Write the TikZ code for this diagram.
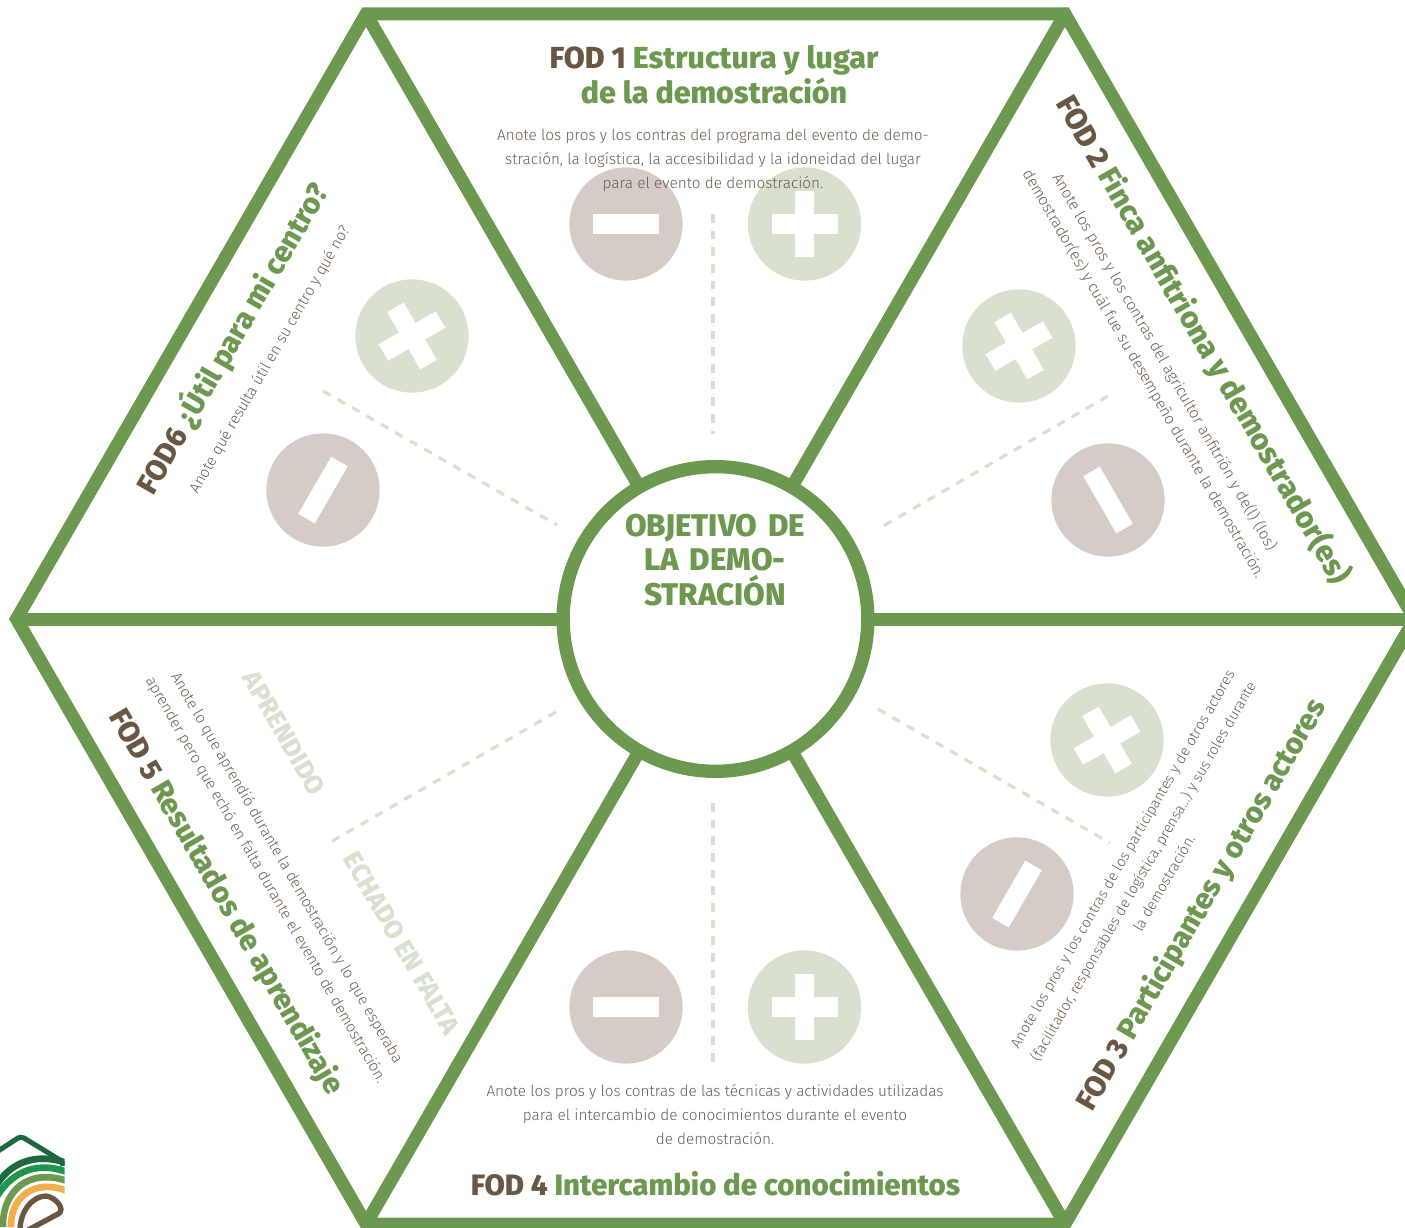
\documentclass[tikz,border=0pt]{standalone}
\usepackage{fontspec}
\setmainfont{Fira Sans Light}[BoldFont=Fira Sans ExtraBold]
\definecolor{hexgreen}{HTML}{6C9850}
\definecolor{fodbrown}{HTML}{6A5743}
\definecolor{bodybrown}{HTML}{6A5C4E}
\definecolor{minusc}{HTML}{D5CCC7}
\definecolor{plusc}{HTML}{D9E0D0}
\definecolor{logodark}{HTML}{1E683E}
\definecolor{logogreen}{HTML}{1E964C}
\definecolor{logoorange}{HTML}{F2AE4A}
\tikzset{
  wall/.style={draw=hexgreen,line width=9.75pt,line join=miter},
  hub/.style={circle,draw=hexgreen,fill=white,line width=10pt,minimum size=228.5pt,inner sep=0pt,outer sep=0pt},
  guide/.style={draw=plusc,line width=2.4pt,dash pattern=on 6.5pt off 6pt},
  disc/.style={circle,minimum size=85pt,inner sep=0pt,outer sep=0pt},
  minusdisc/.style={disc,fill=minusc},
  plusdisc/.style={disc,fill=plusc},
  bar/.style={fill=white,draw=none,minimum width=49.5pt,minimum height=14.3pt,inner sep=0pt,outer sep=0pt},
  titletext/.style={font=\fontsize{#1}{26}\selectfont\bfseries,align=center,text=hexgreen,inner sep=0pt},
  titletext/.default=22.1,
  bodytext/.style={font=\fontsize{#1}{18}\selectfont,align=center,text=bodybrown,inner sep=0pt},
  bodytext/.default=11.4,
  hubtext/.style={font=\fontsize{23.5}{26}\selectfont\bfseries,align=center,text=hexgreen,inner sep=0pt},
  paletext/.style={font=\fontsize{19.6}{22}\selectfont\bfseries,text=plusc,inner sep=0pt},
  logoband/.style={line width=5pt,line cap=butt},
}
\newcommand{\fodmark}[1]{\textcolor{fodbrown}{#1}}
\begin{document}
\begin{tikzpicture}[x=0.75pt,y=-0.75pt]
\useasboundingbox (0,0) rectangle (1405,1227);
\clip (0,0) rectangle (1405,1227);
% dashed guides
\coordinate (g1a) at (713,214); \coordinate (g1b) at (713,434);
\coordinate (g2a) at (1108,396); \coordinate (g2b) at (878,529);
\coordinate (g3a) at (878,709); \coordinate (g3b) at (1110,843);
\coordinate (g4a) at (713,803); \coordinate (g4b) at (713,1065);
\coordinate (g5a) at (556,712); \coordinate (g5b) at (329,843);
\coordinate (g6a) at (323,391); \coordinate (g6b) at (557,525);
\foreach \g in {1,...,6} \draw[guide] (g\g a) -- (g\g b);
% hexagon
\coordinate (v1) at (366,14);
\coordinate (v2) at (1065,14);
\coordinate (v3) at (1414.5,619);
\coordinate (v4) at (1065,1224);
\coordinate (v5) at (366,1224);
\coordinate (v6) at (16.5,619);
\node[hub] (hub) at (715.5,619) {};
\foreach \v in {1,...,6} \draw[wall] (v\v) -- (hub);
\draw[wall] (v1) -- (v2) -- (v3) -- (v4) -- (v5) -- (v6) -- cycle;
% discs
\node[minusdisc] (m1) at (626,224) {};
\node[plusdisc] (p1) at (804.5,224) {};
\node[bar] at (m1) {};
\node[bar] at (p1) {};
\node[bar,rotate=90] at (p1) {};
\node[minusdisc] (m4) at (626,1007) {};
\node[plusdisc] (p4) at (804.5,1007) {};
\node[bar] at (m4) {};
\node[bar] at (p4) {};
\node[bar,rotate=90] at (p4) {};
\node[plusdisc] (p2) at (1019,346) {};
\node[minusdisc] (m2) at (1108,500) {};
\node[bar,rotate=30] at (p2) {};
\node[bar,rotate=-60] at (p2) {};
\node[bar,rotate=-60] at (m2) {};
\node[plusdisc] (p3) at (1107,740) {};
\node[minusdisc] (m3) at (1017,894) {};
\node[bar,rotate=30] at (p3) {};
\node[bar,rotate=-60] at (p3) {};
\node[bar,rotate=60] at (m3) {};
\node[plusdisc] (p6) at (412,336) {};
\node[minusdisc] (m6) at (323,490) {};
\node[bar,rotate=30] at (p6) {};
\node[bar,rotate=-60] at (p6) {};
\node[bar,rotate=60] at (m6) {};
% titles
\node[titletext=22.8] (t1) at (714,75) {\fodmark{FOD 1} Estructura y lugar\\de la demostración};
\node[titletext=22.6,rotate=-60] (t2) at (1203,340) {\fodmark{FOD 2} Finca anfitriona y demostrador(es)};
\node[titletext,rotate=60] (t3) at (1202,905) {\fodmark{FOD 3} Participantes y otros actores};
\node[titletext] (t4) at (715.5,1184) {\fodmark{FOD 4} Intercambio de conocimientos};
\node[titletext,rotate=-60] (t5) at (226,902) {\fodmark{FOD 5} Resultados de aprendizaje};
\node[titletext,rotate=60] (t6) at (232,338) {\fodmark{FOD6} ¿Útil para mi centro?};
% body
\node[bodytext=11.5] (b1) at (713,160) {Anote los pros y los contras del programa del evento de demo-\\stración, la logística, la accesibilidad y la idoneidad del lugar\\para el evento de demostración.};
\node[bodytext=11.6,rotate=-60] (b2) at (1154,368) {Anote los pros y los contras del agricultor anfitrión y de(l) (los)\\demostrador(es) y cuál fue su desempeño durante la demostración.};
\node[bodytext=10.95,rotate=60] (b3) at (1143,871) {Anote los pros y los contras de los participantes y de otros actores\\(facilitador, responsables de logística, prensa…) y sus roles durante\\la demostración.};
\node[bodytext=11.5] (b4) at (715,1115) {Anote los pros y los contras de las técnicas y actividades utilizadas\\para el intercambio de conocimientos durante el evento\\de demostración.};
\node[bodytext,rotate=-60] (b5) at (276,874) {Anote lo que aprendió durante la demostración y lo que esperaba\\aprender pero que echó en falta durante el evento de demostración.};
\node[bodytext,rotate=60] (b6) at (270,360) {Anote qué resulta útil en su centro y qué no?};
% pale labels
\node[paletext,rotate=-60] (l1) at (284,733) {APRENDIDO};
\node[paletext,rotate=-60] (l2) at (402,943) {ECHADO EN FALTA};
% hub text
\node[hubtext,text width=220pt] (ht) at (715,560) {OBJETIVO DE\\LA DEMO-\\STRACIÓN};
% logo
\begin{scope}
\clip (-5,1130) rectangle (64.5,1230);
\draw[color=logodark,line width=3.8pt,line join=round] (-5,1153) -- (18,1138) .. controls (20,1137) and (22,1137) .. (24,1138) -- (60,1160) .. controls (62,1162) and (63,1164) .. (63,1166);
\draw[logoband,color=logodark] (-4,1186) .. controls (8,1166) and (32,1150) .. (70,1164);
\draw[logoband,color=logogreen] (-4,1198) .. controls (8,1177) and (32,1158) .. (70,1173);
\draw[logoband,color=hexgreen] (3,1227) .. controls (2,1192) and (28,1166) .. (70,1182);
\draw[logoband,color=logoorange] (11,1227) .. controls (10,1200) and (32,1176) .. (70,1192);
\draw[color=fodbrown,line width=4pt,line join=round] (20,1230) .. controls (20,1212) and (32,1196) .. (46,1196) .. controls (54,1197) and (61,1205) .. (61,1209) .. controls (61,1212) and (60,1213) .. (58,1214) -- (28,1230);
\end{scope}
\end{tikzpicture}
\end{document}
